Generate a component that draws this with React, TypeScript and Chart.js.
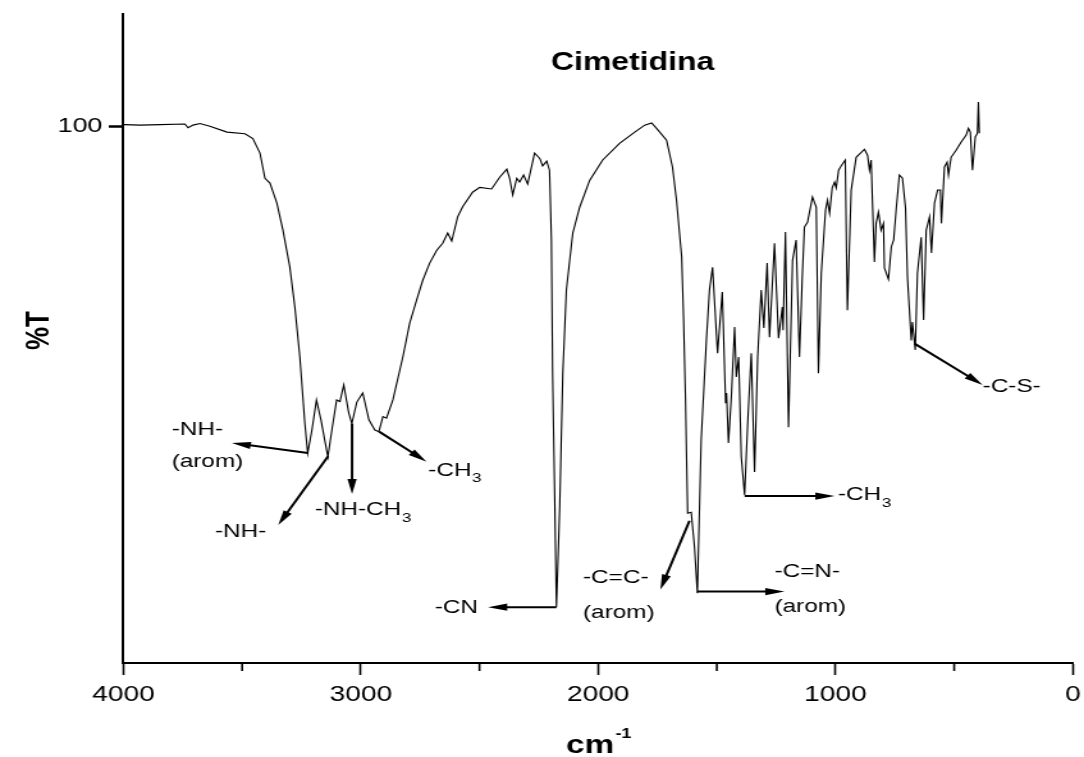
import React, { useEffect, useRef } from 'react';
import { Chart, registerables } from 'chart.js';

Chart.register(...registerables);

// ---------- data ----------
const wavenumbers = [
  3998, 3930, 3846, 3741, 3728, 3707, 3678, 3636, 3564, 3488, 3455, 3425, 3404, 3383, 3354, 3328,
  3299, 3278, 3257, 3236, 3224, 3206, 3187, 3168, 3139, 3122, 3102, 3088, 3072, 3051, 3038, 3017,
  2992, 2966, 2941, 2924, 2907, 2892, 2865, 2823, 2794, 2765, 2739, 2710, 2680, 2655, 2634, 2617,
  2592, 2571, 2529, 2499, 2449, 2415, 2385, 2373, 2360, 2343, 2331, 2314, 2297, 2268, 2246, 2234,
  2217, 2205, 2197, 2192, 2183, 2176, 2162, 2149, 2134, 2107, 2078, 2036, 1981, 1910, 1846, 1804,
  1775, 1754, 1712, 1687, 1670, 1648, 1640, 1632, 1623, 1608, 1594, 1582, 1566, 1544, 1531, 1518,
  1497, 1477, 1463, 1459, 1451, 1439, 1425, 1418, 1408, 1397, 1383, 1370, 1355, 1341, 1328, 1313,
  1302, 1288, 1278, 1257, 1240, 1224, 1221, 1211, 1198, 1181, 1166, 1152, 1140, 1131, 1118, 1097,
  1081, 1072, 1060, 1042, 1034, 1025, 1014, 1004, 997, 987, 975, 959, 950, 934, 913, 878,
  865, 857, 850, 840, 836, 829, 819, 808, 798, 794, 777, 765, 755, 744, 731, 718,
  705, 697, 681, 676, 664, 655, 639, 629, 618, 604, 596, 583, 570, 558, 554, 541,
  530, 524, 513, 492, 471, 450, 440, 432, 423, 411, 402, 398, 394,
];
const transmittance = [
  100.3, 100.2, 100.3, 100.4, 99.7, 100.2, 100.5, 100.0, 98.9, 98.6, 97.7, 95.0, 90.3, 89.4, 85.7, 80.6,
  73.7, 66.3, 57.0, 44.7, 39.1, 43.4, 49.0, 45.3, 38.4, 43.4, 49.0, 48.7, 51.8, 46.6, 44.6, 48.6,
  50.3, 45.3, 43.4, 43.1, 45.9, 45.6, 49.0, 57.0, 63.3, 67.6, 71.3, 74.5, 76.9, 78.2, 80.1, 78.6,
  83.1, 85.0, 87.7, 88.6, 88.3, 90.5, 92.0, 90.3, 87.2, 90.3, 89.6, 90.9, 89.2, 95.0, 94.0, 92.6,
  93.5, 91.8, 78.8, 54.0, 30.4, 10.4, 29.1, 54.0, 69.5, 80.1, 84.9, 89.9, 93.7, 96.8, 98.9, 100.2,
  100.6, 99.6, 97.4, 92.4, 86.2, 75.6, 63.9, 49.0, 27.9, 28.1, 21.6, 13.0, 41.5, 60.1, 69.5, 73.7,
  57.7, 69.1, 48.4, 50.3, 41.0, 49.5, 62.6, 53.3, 57.0, 38.4, 31.3, 44.7, 57.7, 35.6, 57.0, 69.5,
  62.4, 74.5, 60.7, 78.2, 60.5, 66.3, 62.0, 80.3, 43.9, 75.0, 78.8, 57.0, 71.9, 81.2, 82.1, 86.8,
  84.9, 54.0, 72.6, 84.4, 86.2, 83.8, 88.5, 89.6, 88.5, 91.8, 92.7, 93.7, 65.7, 88.1, 94.2, 95.7,
  94.6, 91.8, 93.7, 80.1, 74.7, 81.9, 84.0, 80.6, 81.9, 73.6, 71.5, 77.5, 78.8, 84.7, 90.9, 90.3,
  84.7, 71.9, 60.1, 63.5, 58.3, 72.6, 79.3, 63.9, 80.6, 83.1, 76.4, 85.7, 88.1, 88.1, 81.9, 92.4,
  93.3, 90.9, 94.2, 95.5, 97.0, 98.3, 99.6, 98.9, 91.8, 98.0, 98.7, 104.5, 98.7,
];

const xMajorTicks = [4000, 3000, 2000, 1000, 0];
const xMinorTicks = [3500, 2500, 1500, 500];
const yTicks = [100];
const xRange = [0, 4000];
const yRange = [0, 120.9];

const chartTitle = 'Cimetidina';
const chartTitlePos = [1855, 111.7];
const xAxisTitle = 'cm';
const xAxisTitleSup = '-1';
const yAxisTitle = '%T';

// annotations (data coordinates: wavenumber, %T)
const annTexts = [
  ['-NH-', '(arom)'], ['-NH-'], ['-NH-CH'], ['-CH'], ['-CN'],
  ['-C=C-', '(arom)'], ['-C=N-', '(arom)'], ['-CH'], ['-C-S-'],
];
const annSubs = ['', '', '3', '3', '', '', '', '3', ''];
const annTextX = [3797, 3615, 3194, 2716, 2688, 2064, 1257, 990, 380];
const annTextY = [[43.4, 37.5], [24.5], [28.5], [35.9], [10.2], [15.8, 9.3], [17.0, 10.5], [31.3], [51.5]];
const arrowFromX = [3223, 3138, 3037, 2923, 2176, 1615, 1582, 1383, 667];
const arrowFromY = [39.1, 38.5, 44.6, 43.1, 10.4, 26.5, 13.3, 31.1, 59.5];
const arrowToX = [3544, 3348, 3037, 2723, 2464, 1738, 1215, 1004, 380];
const arrowToY = [41.0, 25.7, 31.5, 37.5, 10.4, 13.7, 13.3, 31.1, 51.8];

// ---------- layout (the original picture is stretched horizontally) ----------
const STRETCH = 1.28;
const VIEW_W = 1084;
const VIEW_H = 757;
const CANVAS_W = Math.round(VIEW_W / STRETCH);
const FONT = '"Liberation Sans", Arial, Helvetica, sans-serif';

function drawArrow(ctx: CanvasRenderingContext2D, x1: number, y1: number, x2: number, y2: number) {
  const ang = Math.atan2(y2 - y1, x2 - x1);
  const len = 15;
  const half = 3.6;
  const bx = x2 - Math.cos(ang) * len;
  const by = y2 - Math.sin(ang) * len;
  ctx.beginPath();
  ctx.moveTo(x1, y1);
  ctx.lineTo(bx + Math.cos(ang) * 2, by + Math.sin(ang) * 2);
  ctx.stroke();
  const px = -Math.sin(ang) * half;
  const py = Math.cos(ang) * half;
  ctx.beginPath();
  ctx.moveTo(x2, y2);
  ctx.lineTo(bx + px, by + py);
  ctx.lineTo(bx - px, by - py);
  ctx.closePath();
  ctx.fill();
}

const overlayPlugin = {
  id: 'irOverlay',
  afterDraw(chart: any) {
    const { ctx, chartArea } = chart;
    const xs = chart.scales.x;
    const ys = chart.scales.y;
    ctx.save();
    ctx.fillStyle = '#000';
    ctx.strokeStyle = '#000';

    // minor ticks
    ctx.lineWidth = 1.6;
    xMinorTicks.forEach((v) => {
      const px = xs.getPixelForValue(v);
      ctx.beginPath();
      ctx.moveTo(px, chartArea.bottom);
      ctx.lineTo(px, chartArea.bottom + 8);
      ctx.stroke();
    });

    // title
    ctx.font = `bold 25px ${FONT}`;
    ctx.textAlign = 'center';
    ctx.textBaseline = 'middle';
    ctx.fillText(chartTitle, xs.getPixelForValue(chartTitlePos[0]), ys.getPixelForValue(chartTitlePos[1]));

    // y axis title
    ctx.save();
    ctx.translate(31, (chartArea.top + chartArea.bottom) / 2 - 8);
    ctx.rotate(-Math.PI / 2);
    ctx.font = `bold 26px ${FONT}`;
    ctx.textAlign = 'center';
    ctx.textBaseline = 'middle';
    ctx.fillText(yAxisTitle, 0, 0);
    ctx.restore();

    // x axis title with superscript
    ctx.textAlign = 'left';
    ctx.textBaseline = 'alphabetic';
    ctx.font = `bold 26px ${FONT}`;
    const wMain = ctx.measureText(xAxisTitle).width;
    ctx.font = `bold 14px ${FONT}`;
    const wSup = ctx.measureText(xAxisTitleSup).width;
    const cx = xs.getPixelForValue(2000);
    const startX = cx - (wMain + wSup) / 2;
    const baseY = chartArea.bottom + 90;
    ctx.font = `bold 26px ${FONT}`;
    ctx.fillText(xAxisTitle, startX, baseY);
    ctx.font = `bold 14px ${FONT}`;
    ctx.fillText(xAxisTitleSup, startX + wMain + 1, baseY - 15);

    // arrows
    ctx.lineWidth = 2;
    for (let i = 0; i < arrowFromX.length; i++) {
      drawArrow(
        ctx,
        xs.getPixelForValue(arrowFromX[i]),
        ys.getPixelForValue(arrowFromY[i]),
        xs.getPixelForValue(arrowToX[i]),
        ys.getPixelForValue(arrowToY[i])
      );
    }

    // annotation labels
    ctx.textAlign = 'left';
    ctx.textBaseline = 'middle';
    for (let i = 0; i < annTexts.length; i++) {
      const lx = xs.getPixelForValue(annTextX[i]);
      annTexts[i].forEach((t, j) => {
        const ly = ys.getPixelForValue(annTextY[i][j]);
        ctx.font = `19px ${FONT}`;
        ctx.fillText(t, lx, ly);
        if (j === 0 && annSubs[i]) {
          const w = ctx.measureText(t).width;
          ctx.font = `13.5px ${FONT}`;
          ctx.fillText(annSubs[i], lx + w + 0.5, ly + 8);
        }
      });
    }
    ctx.restore();
  },
};

export default function App() {
  const canvasRef = useRef<HTMLCanvasElement | null>(null);

  useEffect(() => {
    const canvas = canvasRef.current;
    if (!canvas) return;
    Chart.defaults.font.family = FONT;
    Chart.defaults.color = '#000';
    const chart = new Chart(canvas, {
      type: 'line',
      data: {
        datasets: [
          {
            data: wavenumbers.map((w, i) => ({ x: w, y: transmittance[i] })),
            borderColor: '#000',
            borderWidth: 1.1,
            pointRadius: 0,
            fill: false,
            tension: 0,
          },
        ],
      },
      options: {
        responsive: false,
        maintainAspectRatio: false,
        animation: false,
        devicePixelRatio: 1,
        layout: { padding: { top: 14, right: CANVAS_W - 1073 / STRETCH, left: 0, bottom: 0 } },
        plugins: {
          legend: { display: false },
          tooltip: { enabled: false },
          title: { display: false },
        },
        scales: {
          x: {
            type: 'linear',
            position: 'bottom',
            reverse: true,
            min: xRange[0],
            max: xRange[1],
            afterBuildTicks: (s: any) => {
              s.ticks = [...xMajorTicks, ...xMinorTicks].sort((a, b) => b - a).map((v) => ({ value: v }));
            },
            afterFit: (s: any) => {
              s.height = VIEW_H - 663;
              s.paddingLeft = 0;
              s.paddingRight = 0;
            },
            ticks: {
              autoSkip: false,
              maxRotation: 0,
              padding: 7,
              color: '#000',
              font: { size: 22 },
              callback: (v: any) => (xMajorTicks.includes(Number(v)) ? String(v) : ''),
            },
            grid: {
              drawOnChartArea: false,
              drawTicks: true,
              tickLength: 12,
              tickWidth: 1.6,
              tickColor: (c: any) => (c.tick && xMajorTicks.includes(c.tick.value) ? '#000' : 'rgba(0,0,0,0)'),
            },
            border: { display: true, color: '#000', width: 2 },
          },
          y: {
            type: 'linear',
            position: 'left',
            min: yRange[0],
            max: yRange[1],
            afterBuildTicks: (s: any) => {
              s.ticks = yTicks.map((v) => ({ value: v }));
            },
            afterFit: (s: any) => {
              s.width = 123.5 / STRETCH;
              s.paddingTop = 0;
              s.paddingBottom = 0;
            },
            ticks: {
              padding: 5,
              color: '#000',
              font: { size: 21 },
              callback: (v: any) => String(v),
            },
            grid: {
              drawOnChartArea: false,
              drawTicks: true,
              tickLength: 11.5,
              tickWidth: 2.5,
              tickColor: '#000',
            },
            border: { display: true, color: '#000', width: 2 },
          },
        },
      },
      plugins: [overlayPlugin],
    } as any);
    return () => chart.destroy();
  }, []);

  return (
    <div style={{ position: 'fixed', left: 0, top: 0, width: VIEW_W, height: VIEW_H, background: '#fff' }}>
      <canvas
        ref={canvasRef}
        width={CANVAS_W}
        height={VIEW_H}
        style={{ width: `${VIEW_W}px`, height: `${VIEW_H}px`, display: 'block' }}
      />
    </div>
  );
}
